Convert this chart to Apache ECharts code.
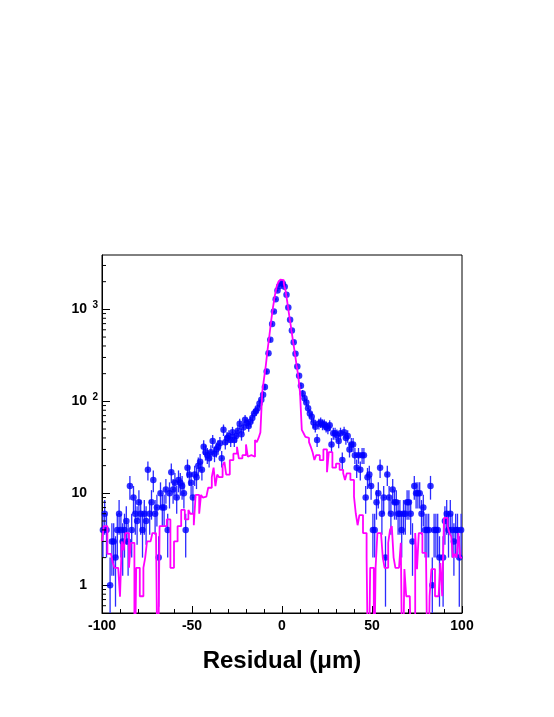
<!DOCTYPE html>
<html style="height: 100%;">
<head>
<meta charset="utf-8">
<title>Residual</title>
<script src="https://cdn.jsdelivr.net/npm/echarts@6/dist/echarts.min.js"></script>
</head>
<body style="height: 100%; margin: 0; background: #fff;">
<div id="container" style="width: 554px; height: 717px;"></div>
<script type="text/javascript">
// histogram binning: 200 bins of 1 um from -100 to 100
var binStart = -100;
var binWidth = 1;

// data (blue points), counts per bin
var dataTailLeft = [
  4, 6, 4, 0, 1, 3, 3, 2, 4, 6,
  4, 3, 4, 5, 3, 12, 4, 9, 6, 5,
  8, 6, 4, 6, 5, 18, 6, 8, 14, 6,
  7, 2, 10, 7, 7, 11, 4, 10, 17, 11,
  13, 9, 14, 13, 12, 10, 4, 19, 16, 13
];
var dataShoulderLeft = [
  9, 16, 15, 20, 22, 18, 32, 28, 26, 24,
  28, 37, 27, 30, 32, 35, 24, 49, 36, 40,
  42, 38, 46, 38, 42, 48, 57, 44, 52, 63,
  58, 54, 60, 66, 74, 78, 84
];
var dataCore = [
  95, 104, 118, 143, 211, 334, 466, 695, 946, 1290, 1600, 1780, 1940,
  1900, 1760, 1440, 1050, 770, 590, 440, 330, 240, 190, 148, 122, 108
];
var dataShoulderRight = [
  97, 84, 74, 68, 59, 53, 38, 57, 59, 56,
  56, 53, 51, 55, 34, 45, 45, 43, 37, 45,
  23, 46, 40, 42, 30, 34, 34, 26, 19, 26,
  18, 26, 26, 9, 15, 16, 12
];
var dataTailRight = [
  4, 4, 8, 10, 19, 6, 9, 2, 16, 9,
  6, 11, 8, 8, 6, 6, 4, 6, 6, 8,
  8, 6, 3, 12, 10, 10, 10, 6, 7, 4,
  4, 4, 12, 1, 4, 4, 4, 2, 0, 2,
  5, 6, 4, 6, 4, 3, 4, 4, 2, 4
];

// simulation (magenta histogram), per bin
var mcTailLeft = [
  3.0, 4.4, 4.4, 2.2, 2.2, 2.2, 1.75, 1.55, 1.55, 1.55,
  0.75, 3.0, 2.4, 3.7, 3.7, 1.55, 2.9, 2.9, 0, 1.55,
  1.55, 0.76, 0.76, 1.55, 2.0, 3.0, 3.0, 3.0, 3.7, 3.7,
  3.7, 0, 4.4, 4.4, 4.4, 4.4, 5.2, 5.2, 1.55, 1.55,
  3.0, 3.0, 4.4, 4.4, 6.6, 6.6, 5.2, 5.2, 6.6, 6.0
];
var mcShoulderLeft = [
  6, 4.5, 9.6, 9.6, 6, 9.6, 9, 9.2, 9.2, 11.5,
  11.5, 15, 19, 12, 16, 15, 15, 20, 22, 16,
  16, 23, 23, 27, 27, 32, 24, 24, 26, 26,
  34, 25, 26, 26, 25, 38, 36
];
var mcCore = [
  40, 46, 125, 175, 245, 365, 520, 760, 1050, 1400, 1760, 1990, 2100,
  2080, 1900, 1580, 1180, 860, 640, 470, 350, 255, 190, 125, 49, 45
];
var mcShoulderRight = [
  41, 40, 36, 32, 28, 23, 26, 26, 23, 23,
  30, 30, 17, 28, 28, 19, 19, 21, 21, 18,
  18, 16.5, 14, 16.5, 16.5, 14, 14, 9.2, 6, 4.5,
  5.8, 5.8, 3.7, 3.7, 2.0, 0, 1.55
];
var mcTailRight = [
  1.55, 0, 1.55, 3.7, 3.7, 3.7, 2.0, 1.55, 1.55, 2.9,
  4.0, 4.4, 2.0, 1.55, 1.55, 1.55, 2.9, 0, 1.5, 0.76,
  0.76, 0.76, 0, 0, 3.7, 1.5, 3.7, 3.7, 2.25, 2.25,
  2.25, 0, 0.76, 1.5, 1.5, 0.76, 0.76, 0.76, 1.75, 0.76,
  5.4, 5.4, 4.4, 3.7, 3.4, 2.0, 2.2, 2.0, 3.7, 2.0
];

var xTicks = [-100, -50, 0, 50, 100];
var yMin = 0.5, yMax = 3900;

var counts = [].concat(dataTailLeft, dataShoulderLeft, dataCore, dataShoulderRight, dataTailRight);
var mc = [].concat(mcTailLeft, mcShoulderLeft, mcCore, mcShoulderRight, mcTailRight);

var FLOOR = 0.05; // empty bins fall below the axis
var points = [], errs = [], steps = [];
for (var i = 0; i < counts.length; i++) {
  var c = binStart + (i + 0.5) * binWidth;
  var n = counts[i];
  if (n > 0) {
    points.push([c, n]);
    var e = Math.sqrt(n);
    errs.push([c, Math.max(n - e, FLOOR), n + e, n]);
  }
}
for (var j = 0; j < mc.length; j++) {
  steps.push([binStart + j * binWidth, mc[j] > 0 ? mc[j] : FLOOR]);
}
steps.push([binStart + mc.length * binWidth, mc[mc.length - 1] > 0 ? mc[mc.length - 1] : FLOOR]);

// minor ticks of the log axis (2..9 in each decade)
var minorVals = [];
for (var d = 0.1; d < yMax; d *= 10) {
  for (var m = 2; m <= 9; m++) {
    var v = Math.round(m * d * 1000) / 1000;
    if (v > yMin && v < yMax) minorVals.push([v]);
  }
}

var font = 'Liberation Sans';
var dom = document.getElementById('container');
var myChart = echarts.init(dom, null, {renderer: 'canvas'});

var option = {
  animation: false,
  backgroundColor: '#fff',
  grid: {
    left: 102, top: 255, width: 360, height: 358,
    show: true, borderColor: '#000', borderWidth: 1, backgroundColor: 'transparent'
  },
  xAxis: {
    type: 'value', min: -100, max: 100, interval: 50,
    name: 'Residual (\u03bcm)', nameLocation: 'middle', nameGap: 36,
    nameTextStyle: {fontFamily: font, fontWeight: 'bold', fontSize: 24, color: '#000'},
    axisLine: {show: true, onZero: false, lineStyle: {color: '#000', width: 1}},
    axisTick: {show: true, inside: true, length: 7, lineStyle: {color: '#000'}},
    minorTick: {show: true, splitNumber: 5, length: 4, lineStyle: {color: '#000'}},
    splitLine: {show: false},
    axisLabel: {
      margin: 6, fontFamily: font, fontWeight: 'bold', fontSize: 14, color: '#000',
      formatter: function (v) { return xTicks.indexOf(v) >= 0 ? String(v) : ''; }
    }
  },
  yAxis: {
    type: 'log', logBase: 10, min: yMin, max: yMax,
    axisLine: {show: true, onZero: false, lineStyle: {color: '#000', width: 1}},
    axisTick: {show: true, inside: true, length: 8, lineStyle: {color: '#000'}},
    splitLine: {show: false},
    axisLabel: {
      margin: 4, showMinLabel: false, showMaxLabel: false,
      formatter: function (v) {
        var p = Math.round(Math.log10(v));
        if (Math.abs(Math.log10(v) - p) > 1e-6) return '';
        if (p === 0) return '{b|1}{s|}';
        if (p === 1) return '{b|10}{s|}';
        return '{b|10}{s|' + p + '}';
      },
      rich: {
        b: {fontFamily: font, fontWeight: 'bold', fontSize: 14, color: '#000', lineHeight: 18},
        s: {fontFamily: font, fontWeight: 'bold', fontSize: 10, color: '#000', width: 11, align: 'right',
            verticalAlign: 'top', lineHeight: 12, padding: [0, 0, 6, 0]}
      }
    }
  },
  series: [
    {
      // minor ticks on the log axis
      type: 'custom', silent: true, z: 5,
      data: minorVals,
      renderItem: function (params, api) {
        var p = api.coord([-100, api.value(0)]);
        return {type: 'line', shape: {x1: p[0], y1: p[1], x2: p[0] + 4, y2: p[1]},
                style: {stroke: '#000', lineWidth: 1}};
      }
    },
    {
      // error bars of the data
      type: 'custom', clip: true, z: 2,
      data: errs,
      renderItem: function (params, api) {
        var x = api.value(0);
        var lo = api.coord([x, api.value(1)]);
        var hi = api.coord([x, api.value(2)]);
        var l = api.coord([x - binWidth / 2, api.value(3)]);
        var r = api.coord([x + binWidth / 2, api.value(3)]);
        return {
          type: 'group',
          children: [
            {type: 'line', shape: {x1: lo[0], y1: lo[1], x2: hi[0], y2: hi[1]},
             style: {stroke: '#2b2bff', lineWidth: 1.3}},
            {type: 'line', shape: {x1: l[0], y1: l[1], x2: r[0], y2: r[1]},
             style: {stroke: '#2b2bff', lineWidth: 1.3}}
          ]
        };
      }
    },
    {
      type: 'scatter', z: 3,
      data: points,
      symbol: 'circle', symbolSize: 6.5,
      itemStyle: {color: '#0000ff'}
    },
    {
      type: 'line', z: 4,
      data: steps, step: 'end', symbol: 'none', clip: true,
      lineStyle: {color: '#ff00ff', width: 1.8}
    }
  ]
};
myChart.setOption(option);
window.onresize = function () { myChart.resize(); };
</script>
</body>
</html>
